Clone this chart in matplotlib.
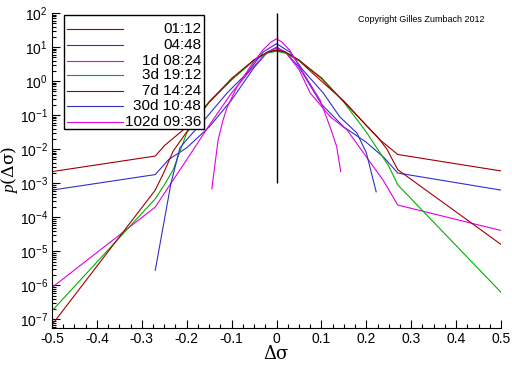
import numpy as np
import matplotlib
matplotlib.use("Agg")
import matplotlib.pyplot as plt
from matplotlib.ticker import LogLocator, MultipleLocator, FuncFormatter, NullFormatter
from matplotlib.lines import Line2D
from matplotlib.patches import Rectangle

plt.rcParams['font.family'] = ['Liberation Sans', 'DejaVu Sans']
plt.rcParams['axes.unicode_minus'] = False
plt.rcParams['mathtext.fontset'] = 'custom'
plt.rcParams['mathtext.rm'] = 'Liberation Sans'
plt.rcParams['mathtext.it'] = 'Liberation Serif:italic'

labels = ["01:12", "04:48", "1d 08:24", "3d 19:12", "7d 14:24", "30d 10:48", "102d 09:36"]
colors = ["#a00000", "#3030c8", "#e000e0", "#00b000", "#a00000", "#3030c8", "#e000e0"]

x_0112 = [-0.5, -0.27, -0.25, -0.23, -0.2, -0.15, -0.1, -0.05, -0.02, 0, 0.02, 0.05, 0.1, 0.15, 0.2, 0.23, 0.27, 0.5]
y_0112 = [2.2e-3, 6.3e-3, 1.26e-2, 2.1e-2, 4.5e-2, 2.4e-1, 1.1, 4.2, 7.1, 8.3, 7.1, 4.0, 1.0, 2.6e-1, 5.0e-2, 1.9e-2, 7.0e-3, 2.3e-3]

x_0448 = [-0.5, -0.27, -0.24, -0.2, -0.15, -0.1, -0.05, -0.02, 0, 0.02, 0.05, 0.1, 0.15, 0.2, 0.24, 0.27, 0.5]
y_0448 = [6.3e-4, 1.8e-3, 5.0e-3, 1.1e-2, 4.5e-2, 2.8e-1, 2.5, 7.1, 9.5, 7.1, 2.6, 2.1e-1, 4.5e-2, 1.6e-2, 5.6e-3, 2.0e-3, 6.3e-4]

x_1d = [-0.5, -0.27, -0.23, -0.2, -0.15, -0.1, -0.05, -0.02, 0, 0.02, 0.05, 0.075, 0.12, 0.157, 0.2, 0.237, 0.27, 0.5]
y_1d = [8.7e-7, 2.0e-4, 1.26e-3, 4.9e-3, 5.0e-2, 4.5e-1, 2.8, 7.1, 10.0, 7.1, 2.2, 4.5e-1, 8.9e-2, 3.7e-2, 6.0e-3, 1.26e-3, 2.3e-4, 4.1e-5]

x_3d = [-0.5, -0.27, -0.25, -0.23, -0.2, -0.15, -0.1, -0.05, -0.02, 0, 0.02, 0.05, 0.1, 0.15, 0.2, 0.25, 0.27, 0.5]
y_3d = [1.8e-7, 3.5e-4, 8.9e-4, 2.5e-3, 3.0e-2, 2.5e-1, 1.1, 4.0, 6.6, 7.6, 6.6, 4.0, 1.26, 2.4e-1, 3.2e-2, 3.2e-3, 9.0e-4, 6.3e-7]

x_7d = [-0.5, -0.27, -0.25, -0.23, -0.2, -0.15, -0.1, -0.05, -0.02, 0, 0.02, 0.05, 0.1, 0.15, 0.2, 0.225, 0.246, 0.27, 0.5]
y_7d = [7.0e-8, 6.3e-4, 2.2e-3, 8.9e-3, 3.2e-2, 2.4e-1, 1.2, 4.2, 7.1, 7.9, 7.1, 4.2, 1.2, 2.5e-1, 5.0e-2, 2.3e-2, 1.0e-2, 2.5e-3, 1.6e-5]

x_30d = [-0.27, -0.235, -0.215, -0.2, -0.155, -0.11, -0.066, -0.03, 0, 0.03, 0.059, 0.104, 0.141, 0.179, 0.2, 0.222]
y_30d = [2.8e-6, 1.0e-3, 1.1e-2, 1.9e-2, 8.9e-2, 4.5e-1, 1.7, 7.1, 12.6, 7.1, 2.1, 4.5e-1, 8.9e-2, 3.0e-2, 7.9e-3, 5.6e-4]

x_102d = [-0.144, -0.13, -0.119, -0.11, -0.088, -0.059, -0.03, -0.012, 0, 0.012, 0.03, 0.059, 0.097, 0.119, 0.134, 0.143]
y_102d = [6.9e-4, 1.9e-2, 7.2e-2, 1.7e-1, 6.8e-1, 2.6, 8.3, 14.1, 17.4, 14.1, 7.9, 1.8, 2.8e-1, 4.6e-2, 1.2e-2, 2.2e-3]

series_x = [x_0112, x_0448, x_1d, x_3d, x_7d, x_30d, x_102d]
series_y = [y_0112, y_0448, y_1d, y_3d, y_7d, y_30d, y_102d]

xticks = [-0.5, -0.4, -0.3, -0.2, -0.1, 0, 0.1, 0.2, 0.3, 0.4, 0.5]

fig = plt.figure(figsize=(5.12, 3.66), dpi=100)
ax = fig.add_axes([52/512, 1-328/366, 449/512, 315/366])

for xs, ys, c in zip(series_x, series_y, colors):
    ax.plot(xs, ys, color=c, lw=0.8)

ax.vlines(0, 1e-3, 1e2, color='black', lw=1.0)

ax.set_yscale('log')
ax.set_xlim(-0.5, 0.5)
ax.set_ylim(10**-7.25, 1e2)
ax.set_xticks(xticks)
ax.xaxis.set_minor_locator(MultipleLocator(0.025))
ax.xaxis.set_major_formatter(FuncFormatter(lambda v, p: "0" if abs(v) < 1e-9 else f"{v:.1f}"))
ax.yaxis.set_major_locator(LogLocator(base=10, numticks=20))
ax.yaxis.set_minor_locator(LogLocator(base=10, subs=np.arange(2, 10), numticks=100))
ax.yaxis.set_minor_formatter(NullFormatter())

ax.tick_params(axis='both', which='major', direction='in', length=6, width=0.8, labelsize=10, pad=3)
ax.tick_params(axis='both', which='minor', direction='in', length=3, width=0.8)
for s in ['top', 'right']:
    ax.spines[s].set_visible(False)
for s in ['left', 'bottom']:
    ax.spines[s].set_linewidth(0.8)

fig.text(276/512, 1-354/366, "Δσ", family='DejaVu Serif', fontsize=13, ha='center', va='center')
fig.text(10/512, 1-170/366, r"$\it{p}$(Δσ)", family='DejaVu Serif', fontsize=12.5,
         ha='center', va='center', rotation=90)

# Legend box
lx0 = (64-52)/449; lx1 = (204-52)/449
ly0 = (328-129)/315; ly1 = (328-15)/315
ax.add_patch(Rectangle((lx0, ly0), lx1-lx0, ly1-ly0, transform=ax.transAxes,
                       facecolor='white', edgecolor='black', lw=1.0, zorder=5))
rows = [29, 45, 61, 75, 91, 106, 122]
for lab, c, r in zip(labels, colors, rows):
    yy = (328-r)/315
    ax.add_line(Line2D([(67-52)/449, (123-52)/449], [yy, yy], transform=ax.transAxes,
                       color=c, lw=0.8, zorder=6))
    ax.text((201-52)/449, yy, lab, transform=ax.transAxes, ha='right', va='center',
            fontsize=11, zorder=6)

fig.text(358/512, 1-19/366, "Copyright Gilles Zumbach 2012", fontsize=6.5, ha='left', va='center')

fig.savefig("out.png", dpi=100)
